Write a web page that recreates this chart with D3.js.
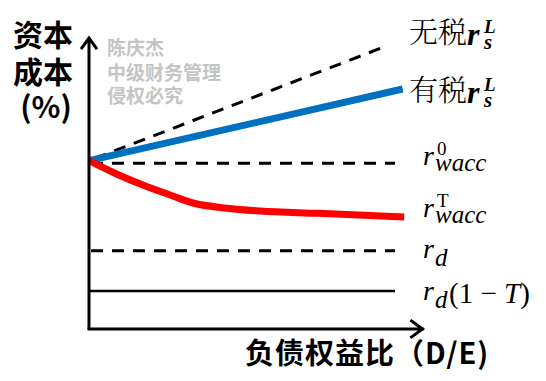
<!DOCTYPE html>
<html>
<head>
<meta charset="utf-8">
<script src="https://cdn.jsdelivr.net/npm/d3@7"></script>
<style>
  body { margin: 0; background: #fff; }
  #root { width: 546px; height: 381px; }
  svg { font-family: "Noto Sans CJK SC", "Noto Sans", sans-serif; }
</style>
</head>
<body>
<div id="root"></div>
<script>
// Debt/equity ratio (x) and cost of capital in % (y)
const deNoTax = [0, 9.75];
const rsNoTax = [10.1, 17.0];

const deTax = [0, 10.25];
const rsTax = [10.1, 14.4];

const deWacc = [0, 0.9, 1.76, 2.65, 3.4, 4.5, 5.6, 7.5, 10.3];
const waccTax = [10.1, 9.3, 8.64, 8.04, 7.56, 7.25, 7.08, 6.94, 6.72];

const deFlat = [0, 10];
const wacc0 = 9.95;
const rd = 4.7;
const rdAfterTax = 2.28;

const axisMax = [10.9, 17.45];

const root = document.getElementById('root');

const width = 546;
const height = 381;

const svg = d3.select(root)
    .append('svg')
    .attr('width', width)
    .attr('height', height);

const x = d3.scaleLinear().domain([0, 10]).range([89, 395]);
const y = d3.scaleLinear().domain([0, 18]).range([329, 29]);

const line = d3.line()
    .x(d => x(d[0]))
    .y(d => y(d[1]));

const smooth = d3.line()
    .x(d => x(d[0]))
    .y(d => y(d[1]))
    .curve(d3.curveMonotoneX);

// horizontal reference lines
svg.append('path')
    .attr('d', line(deFlat.map(d => [d, wacc0])))
    .attr('fill', 'none').attr('stroke', '#000')
    .attr('stroke-width', 3).attr('stroke-dasharray', '12,9')
    .attr('stroke-dashoffset', -2);

svg.append('path')
    .attr('d', line(deFlat.map(d => [d, rd])))
    .attr('fill', 'none').attr('stroke', '#000')
    .attr('stroke-width', 3).attr('stroke-dasharray', '12,9')
    .attr('stroke-dashoffset', -2);

svg.append('path')
    .attr('d', line(deFlat.map(d => [d, rdAfterTax])))
    .attr('fill', 'none').attr('stroke', '#000')
    .attr('stroke-width', 2.5);

// cost of equity, no tax (dashed)
svg.append('path')
    .attr('d', line(deNoTax.map((d, i) => [d, rsNoTax[i]])))
    .attr('fill', 'none').attr('stroke', '#000')
    .attr('stroke-width', 3).attr('stroke-dasharray', '12,9')
    .attr('stroke-dashoffset', -6);

// cost of equity, with tax
svg.append('path')
    .attr('d', line(deTax.map((d, i) => [d, rsTax[i]])))
    .attr('fill', 'none').attr('stroke', '#0070c0')
    .attr('stroke-width', 7);

// wacc with tax
svg.append('path')
    .attr('d', smooth(deWacc.map((d, i) => [d, waccTax[i]])))
    .attr('fill', 'none').attr('stroke', '#ff0000')
    .attr('stroke-width', 7)
    .attr('stroke-linejoin', 'round');

// axes with open arrow heads
const x0 = x(0), y0 = y(0);
const xEnd = x(axisMax[0]), yEnd = y(axisMax[1]);
svg.append('path')
    .attr('d', `M${x0},${y0}H${xEnd}M${xEnd - 11},${y0 - 8}L${xEnd},${y0}L${xEnd - 11},${y0 + 8}`)
    .attr('fill', 'none').attr('stroke', '#000').attr('stroke-width', 3)
    .attr('stroke-linecap', 'square');
svg.append('path')
    .attr('d', `M${x0},${y0}V${yEnd}M${x0 - 8},${yEnd + 11}L${x0},${yEnd}L${x0 + 8},${yEnd + 11}`)
    .attr('fill', 'none').attr('stroke', '#000').attr('stroke-width', 3);

// y axis title
const yTitle = svg.append('g')
    .attr('font-weight', 'bold').attr('font-size', 30).attr('fill', '#000')
    .attr('text-anchor', 'middle');
yTitle.append('text').attr('x', 43).attr('y', 46).text('资本');
yTitle.append('text').attr('x', 43).attr('y', 83).text('成本');
yTitle.append('text').attr('x', 46).attr('y', 118).text('(%)');

// x axis title
svg.append('text')
    .attr('x', 245).attr('y', 364)
    .attr('font-weight', 'bold').attr('font-size', 29)
    .attr('letter-spacing', 1)
    .text('负债权益比（D/E)');

// watermark
const mark = svg.append('g')
    .attr('font-weight', 'bold').attr('font-size', 19).attr('fill', '#c4c4c4');
mark.append('text').attr('x', 107).attr('y', 55).text('陈庆杰');
mark.append('text').attr('x', 107).attr('y', 80).text('中级财务管理');
mark.append('text').attr('x', 107).attr('y', 103).text('侵权必究');

// right labels
const cjkSerif = '"Noto Serif CJK SC", "Noto Sans CJK SC", serif';
const mathFont = '"Liberation Serif", "DejaVu Serif", serif';

function rsLabel(ty, word) {
    const t = svg.append('text').attr('x', 409).attr('y', ty).attr('fill', '#000');
    t.append('tspan')
        .style('font-family', cjkSerif).attr('font-size', 29).attr('font-weight', 300)
        .text(word);
    const m = { family: mathFont };
    t.append('tspan').attr('dy', 2)
        .style('font-family', m.family).attr('font-size', 32)
        .attr('font-style', 'italic').attr('font-weight', 'bold').text('r');
    t.append('tspan').attr('x', 484).attr('dy', -12)
        .style('font-family', m.family).attr('font-size', 19)
        .attr('font-style', 'italic').attr('font-weight', 'bold').text('L');
    t.append('tspan').attr('x', 484).attr('dy', 16)
        .style('font-family', m.family).attr('font-size', 21)
        .attr('font-style', 'italic').attr('font-weight', 'bold').text('s');
}
rsLabel(43, '无税');
rsLabel(101, '有税');

function waccLabel(ty, sup) {
    const t = svg.append('text').attr('x', 423).attr('y', ty)
        .attr('fill', '#000').style('font-family', mathFont);
    t.append('tspan').attr('font-size', 28).attr('font-style', 'italic').text('r');
    t.append('tspan').attr('x', 437).attr('dy', -10).attr('font-size', 19).text(sup);
    t.append('tspan').attr('x', 435).attr('dy', 16)
        .attr('font-size', 25).attr('font-style', 'italic').text('wacc');
}
waccLabel(165, '0');
waccLabel(217, 'T');

function rdLabel(ty, tail) {
    const t = svg.append('text').attr('x', 423).attr('y', ty)
        .attr('fill', '#000').style('font-family', mathFont);
    t.append('tspan').attr('font-size', 28).attr('font-style', 'italic').text('r');
    t.append('tspan').attr('x', 435).attr('dy', 8)
        .attr('font-size', 25).attr('font-style', 'italic').text('d');
    if (tail) {
        t.append('tspan').attr('x', 449).attr('dy', -5).attr('font-size', 29).text('(1 − ');
        t.append('tspan').attr('font-size', 29).attr('font-style', 'italic').text('T');
        t.append('tspan').attr('font-size', 29).text(')');
    }
}
rdLabel(258, false);
rdLabel(300, true);
</script>
</body>
</html>
